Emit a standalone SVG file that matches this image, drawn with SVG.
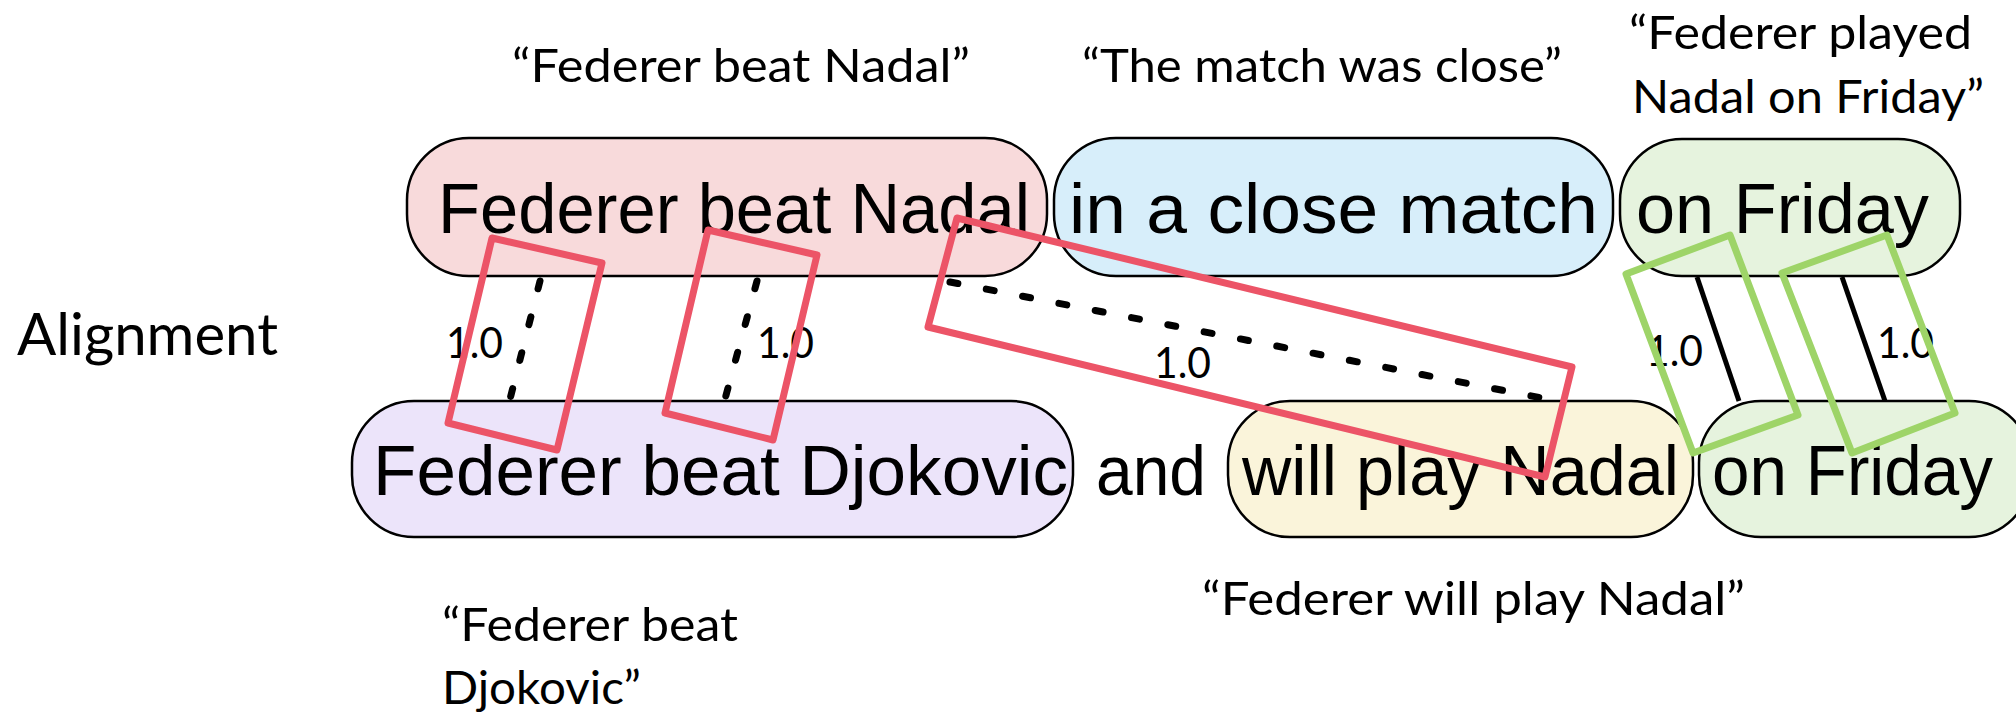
<svg xmlns="http://www.w3.org/2000/svg" width="2016" height="714" viewBox="0 0 2016 714">
<style>
.box{stroke:#000;stroke-width:2.5}
.bt{font-family:"Liberation Sans",Arial,sans-serif;font-size:71px;fill:#000}
.lb{font-family:Lato,"Open Sans",sans-serif;fill:#000}
.num{font-family:Lato,"Open Sans",sans-serif;font-size:42px;fill:#000}
.dot{stroke:#000;stroke-width:7;stroke-linecap:round;stroke-dasharray:8 29;fill:none}
.sol{stroke:#000;stroke-width:5;fill:none}
.red{fill:none;stroke:#EC5467;stroke-width:7;stroke-linejoin:round}
.grn{fill:none;stroke:#9ED468;stroke-width:7;stroke-linejoin:round}
</style>
<rect width="2016" height="714" fill="#fff"/>
<g id="labels">
<text class="lb" x="17" y="355" font-size="59" textLength="261" lengthAdjust="spacingAndGlyphs">Alignment</text>
<text class="lb" x="512" y="82" font-size="47" textLength="458" lengthAdjust="spacingAndGlyphs">“Federer beat Nadal”</text>
<text class="lb" x="1082" y="82" font-size="47" textLength="480" lengthAdjust="spacingAndGlyphs">“The match was close”</text>
<text class="lb" x="1629" y="49" font-size="47" textLength="343" lengthAdjust="spacingAndGlyphs">“Federer played</text>
<text class="lb" x="1632" y="113" font-size="47" textLength="352" lengthAdjust="spacingAndGlyphs">Nadal on Friday”</text>
<text class="lb" x="1202" y="615" font-size="47" textLength="543" lengthAdjust="spacingAndGlyphs">“Federer will play Nadal”</text>
<text class="lb" x="442" y="641" font-size="47" textLength="296" lengthAdjust="spacingAndGlyphs">“Federer beat</text>
<text class="lb" x="442" y="704" font-size="47" textLength="199" lengthAdjust="spacingAndGlyphs">Djokovic”</text>
</g>
<g id="node-federer-beat-nadal">
<rect class="box" x="407" y="138" width="640" height="138" rx="62" fill="#F8DADB"/>
<text class="bt" x="438" y="233" textLength="592" lengthAdjust="spacingAndGlyphs">Federer beat Nadal</text>
</g>
<g id="node-in-a-close-match">
<rect class="box" x="1054" y="138" width="559" height="138" rx="62" fill="#D7EEFA"/>
<text class="bt" x="1069" y="233" textLength="529" lengthAdjust="spacingAndGlyphs">in a close match</text>
</g>
<g id="node-on-friday-top">
<rect class="box" x="1620" y="139" width="340" height="137" rx="62" fill="#E6F3DE"/>
<text class="bt" x="1636" y="233" textLength="293" lengthAdjust="spacingAndGlyphs">on Friday</text>
</g>
<g id="node-federer-beat-djokovic">
<rect class="box" x="352" y="401" width="721" height="136" rx="62" fill="#ECE4FA"/>
<text class="bt" x="373" y="495" textLength="695" lengthAdjust="spacingAndGlyphs">Federer beat Djokovic</text>
</g>
<g id="node-and">
<text class="bt" x="1096" y="495" textLength="110" lengthAdjust="spacingAndGlyphs">and</text>
</g>
<g id="node-will-play-nadal">
<rect class="box" x="1228" y="401" width="465" height="136" rx="62" fill="#FAF4DA"/>
<text class="bt" x="1242" y="495" textLength="437" lengthAdjust="spacingAndGlyphs">will play Nadal</text>
</g>
<g id="node-on-friday-bottom">
<rect class="box" x="1699" y="401" width="332" height="136" rx="62" fill="#E6F3DE"/>
<text class="bt" x="1712" y="495" textLength="281" lengthAdjust="spacingAndGlyphs">on Friday</text>
</g>
<g id="connectors">
<line class="dot" x1="540" y1="281" x2="510" y2="399"/>
<line class="dot" x1="757" y1="281" x2="725" y2="399"/>
<line class="dot" x1="950" y1="282" x2="1552" y2="400"/>
<line class="sol" x1="1697" y1="277" x2="1739" y2="401"/>
<line class="sol" x1="1842" y1="277" x2="1885" y2="401"/>
</g>
<g id="connector-labels">
<text class="num" x="446" y="358" textLength="57" lengthAdjust="spacingAndGlyphs">1.0</text>
<text class="num" x="757" y="358" textLength="57" lengthAdjust="spacingAndGlyphs">1.0</text>
<text class="num" x="1154" y="378" textLength="57" lengthAdjust="spacingAndGlyphs">1.0</text>
<text class="num" x="1646" y="366" textLength="57" lengthAdjust="spacingAndGlyphs">1.0</text>
<text class="num" x="1877" y="358" textLength="57" lengthAdjust="spacingAndGlyphs">1.0</text>
</g>
<g id="highlights">
<polygon class="red" points="492,238 602,263 557,450 448,423"/>
<polygon class="red" points="708,230 817,255 773,440 665,413"/>
<polygon class="red" points="957,218 1572,367 1545,477 928,327"/>
<polygon class="grn" points="1626,274 1730,235 1798,415 1693,453"/>
<polygon class="grn" points="1782,273 1887,235 1955,413 1852,453"/>
</g>
</svg>
